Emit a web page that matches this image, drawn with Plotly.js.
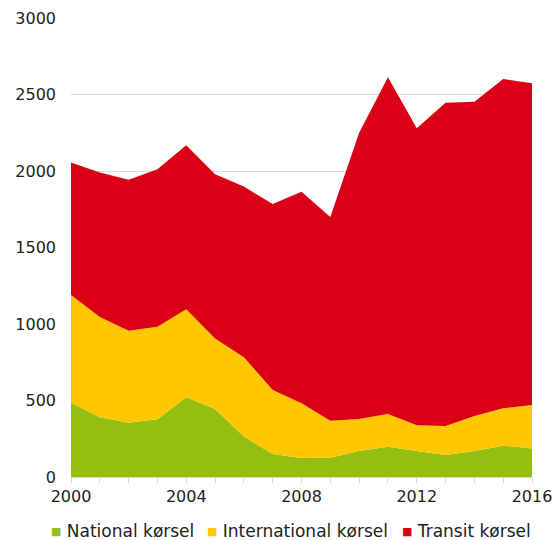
<!DOCTYPE html>
<html>
<head>
<meta charset="utf-8">
<script src="https://cdn.plot.ly/plotly-3.0.1.min.js"></script>
<style>body{margin:0;padding:0;background:#fff}#chart{width:560px;height:540px}</style>
</head>
<body>
<div id="chart"></div>
<script>
const years = [2000,2001,2002,2003,2004,2005,2006,2007,2008,2009,2010,2011,2012,2013,2014,2015,2016];
const national = [486,390,355,377,521,444,264,150,124,126,170,198,170,144,170,205,187];
const international = [704,655,601,605,575,462,518,419,358,242,209,214,168,189,229,244,284];
const transit = [865,945,987,1029,1072,1072,1116,1215,1383,1332,1871,2200,1941,2113,2054,2152,2102];
const seriesNames = ["National kørsel","International kørsel","Transit kørsel"];
const colors = ["#95BE12","#FFC700","#DA0016"];
const xTickVals = [2000,2004,2008,2012,2016];
const yTickVals = [0,500,1000,1500,2000,2500,3000];
const legendIds = ['legend','legend2','legend3'];
const legendX = [-0.1302, 0.2082, 0.6312];

const areas = [national, international, transit].map((vals, i) => ({
  x: years, y: vals, name: seriesNames[i], type: 'scatter', mode: 'lines',
  stackgroup: 'one', line: {width: 0, color: colors[i]}, fillcolor: colors[i],
  showlegend: false
}));
// legend-only entries; swatch drawn as a coloured square glyph in the label
const legendEntries = seriesNames.map((n, i) => ({
  x: [null], y: [null], type: 'scatter', mode: 'markers',
  name: '<span style="color:' + colors[i] + ';font-size:11px;baseline-shift:2px">■</span> ' + n,
  marker: {symbol: 'square', size: 1, color: 'rgba(0,0,0,0)'}, showlegend: true,
  legend: legendIds[i]
}));

const layout = {
  width: 560, height: 540,
  margin: {l: 71, r: 28, t: 18, b: 63, autoexpand: false},
  paper_bgcolor: '#fff', plot_bgcolor: '#fff',
  font: {family: 'DejaVu Sans, Verdana, sans-serif', size: 16, color: '#222'},
  showlegend: true,
  xaxis: {range: [2000, 2016], tickvals: xTickVals, ticktext: xTickVals.map(String),
          showgrid: false, zeroline: false, showline: true, linecolor: '#d9d9d9',
          ticks: 'outside', ticklen: 5, tickcolor: '#d9d9d9',
          minor: {dtick: 1, ticks: 'outside', ticklen: 5, tickcolor: '#d9d9d9', showgrid: false}},
  yaxis: {range: [0, 3000], tickvals: yTickVals, showgrid: true, gridcolor: '#d9d9d9',
          zeroline: false, showline: false, ticks: '', ticklabelstandoff: 14}
};
legendIds.forEach((id, i) => {
  layout[id] = {orientation: 'h', x: legendX[i], xanchor: 'left', y: -0.118, yanchor: 'middle',
                font: {size: 17}, itemwidth: 30, bgcolor: 'rgba(0,0,0,0)'};
});
Plotly.newPlot('chart', areas.concat(legendEntries), layout, {displayModeBar: false, staticPlot: true});
</script>
</body>
</html>
